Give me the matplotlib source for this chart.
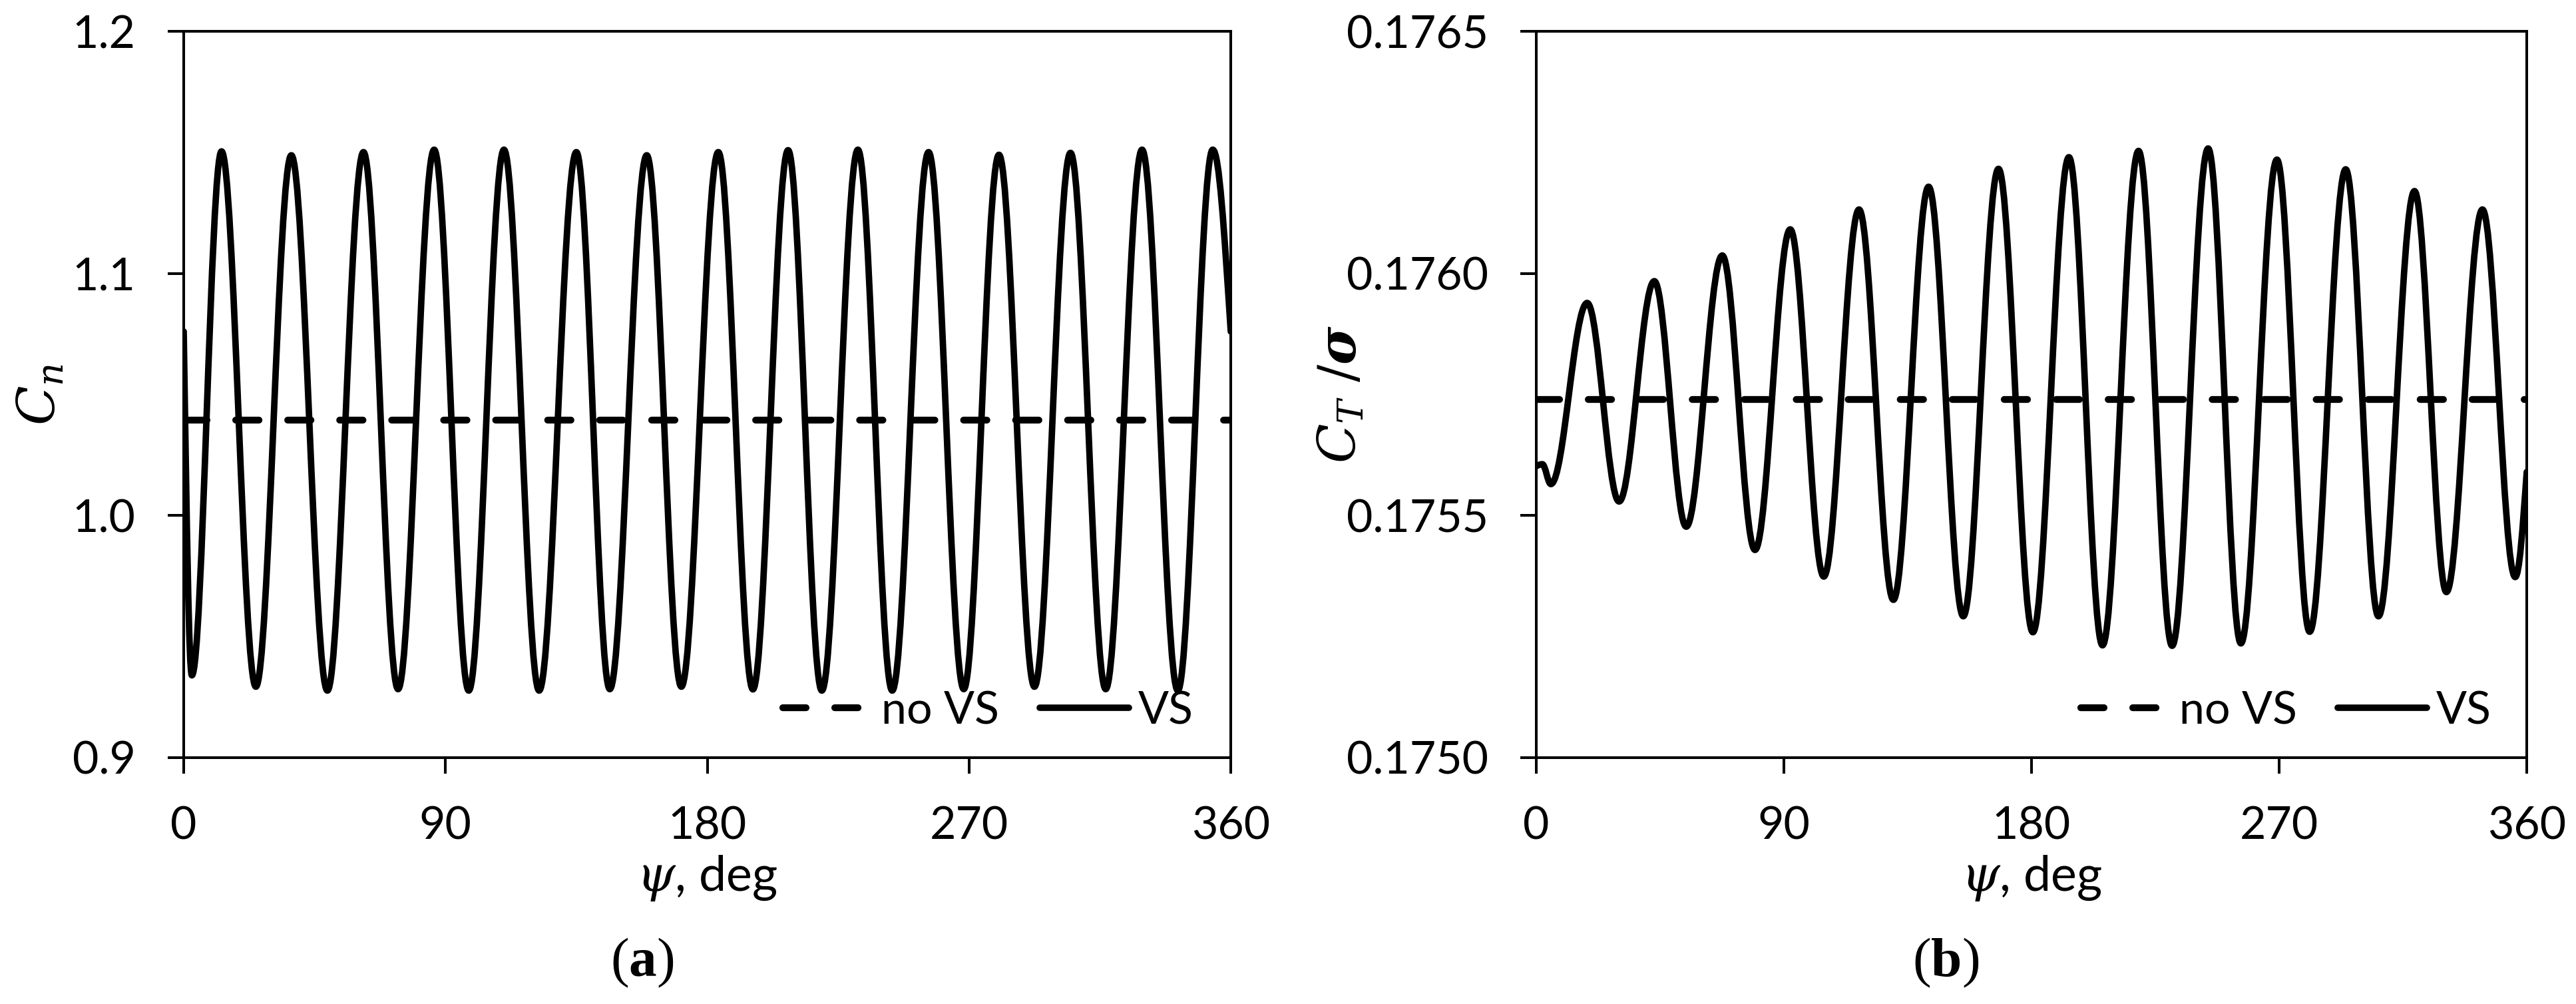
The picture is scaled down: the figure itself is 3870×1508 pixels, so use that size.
import numpy as np
import matplotlib
matplotlib.use("Agg")
import matplotlib.pyplot as plt
from matplotlib.path import Path
from matplotlib.patches import PathPatch
from matplotlib.lines import Line2D
from matplotlib.ticker import FormatStrFormatter

plt.rcParams['font.family'] = ['Lato', 'DejaVu Sans']
plt.rcParams['mathtext.fontset'] = 'custom'
plt.rcParams['mathtext.rm'] = 'DejaVu Serif'
plt.rcParams['mathtext.it'] = 'DejaVu Serif:italic'
plt.rcParams['mathtext.bf'] = 'Liberation Serif:bold'
plt.rcParams['mathtext.bfit'] = 'DejaVu Serif:italic:bold'

PSI_TICKS = [0, 90, 180, 270, 360]
LEGEND_LABELS = ["no VS", "VS"]

# (a) normal force coefficient (turning points + ends)
CN_TICKS = [0.9, 1.0, 1.1, 1.2]
CN_NO_VS = [1.0395, 1.0395]
CN_VS_PSI = [0.0, 2.8, 13.0, 24.8, 37.0, 49.4, 61.8, 73.7, 86.1, 98.0,
             110.1, 122.2, 135.0, 146.5, 159.2, 171.1, 183.8, 195.7, 207.8,
             219.4, 231.8, 243.6, 256.1, 268.2, 280.3, 292.5, 304.9, 317.0,
             329.5, 341.8, 353.8, 360.0]
CN_VS = [1.076, 0.934, 1.1504, 0.9293, 1.1488, 0.9277, 1.1501, 0.9283,
         1.1511, 0.9277, 1.1511, 0.9277, 1.1501, 0.9283, 1.1488, 0.9293,
         1.1501, 0.9282, 1.1509, 0.9277, 1.1511, 0.9277, 1.1501, 0.9283,
         1.1490, 0.9293, 1.1498, 0.9283, 1.1511, 0.9277, 1.1511, 1.076]

# (b) thrust coefficient over solidity
CT_TICKS = [0.1750, 0.1755, 0.1760, 0.1765]
CT_NO_VS = [0.17574, 0.17574]
CT_VS_PSI = [0.0, 2.2, 5.3, 18.5, 30.1, 42.9, 54.5, 67.6, 79.5, 92.3,
             104.5, 117.3, 129.8, 142.6, 155.2, 168.0, 180.5, 193.6, 205.8,
             218.9, 231.1, 244.2, 256.1, 269.2, 281.1, 294.2, 306.1, 319.2,
             330.8, 343.9, 355.8, 360.0]
CT_VS = [0.175602, 0.175606, 0.175565, 0.175939, 0.175529, 0.175984,
         0.175477, 0.176037, 0.175429, 0.176091, 0.175374, 0.176132,
         0.175326, 0.176179, 0.175292, 0.176216, 0.175259, 0.176240,
         0.175232, 0.176253, 0.175231, 0.176258, 0.175236, 0.176235,
         0.175260, 0.176215, 0.175292, 0.176170, 0.175342, 0.176132,
         0.175373, 0.175590]

LW_VS = 7.0
LW_NO_VS = 7.4
DASH = (0, (3.4, 4.2))
FS = 49

# bezier handle for a half-cosine between two turning points
A = 1 - 2 / np.pi


def turning_point_path(psi, val, end_gain=1.5):
    ''' Smooth path through turning points: flat at every inner point '''
    n = len(psi)
    slopes = [0.0] * n
    slopes[0] = end_gain * (val[1] - val[0]) / (psi[1] - psi[0])
    slopes[-1] = end_gain * (val[-1] - val[-2]) / (psi[-1] - psi[-2])
    verts = [(psi[0], val[0])]
    codes = [Path.MOVETO]
    for i in range(n - 1):
        h = psi[i + 1] - psi[i]
        verts.append((psi[i] + A * h, val[i] + slopes[i] * A * h))
        verts.append((psi[i + 1] - A * h, val[i + 1] - slopes[i + 1] * A * h))
        verts.append((psi[i + 1], val[i + 1]))
        codes += [Path.CURVE4] * 3
    return Path(verts, codes)


def draw_panel(ax, psi, vs, no_vs, yticks, yfmt, ylabel, ylabel_x):
    ax.plot([PSI_TICKS[0], PSI_TICKS[-1]], no_vs, color='black', lw=LW_NO_VS,
            linestyle=DASH, dash_capstyle='round')
    ax.add_patch(PathPatch(turning_point_path(psi, vs), facecolor='none',
                           edgecolor='black', lw=LW_VS, capstyle='round',
                           joinstyle='round'))

    ax.set_xlim(PSI_TICKS[0], PSI_TICKS[-1])
    ax.set_ylim(yticks[0], yticks[-1])
    ax.set_xticks(PSI_TICKS)
    ax.set_yticks(yticks)
    ax.yaxis.set_major_formatter(FormatStrFormatter(yfmt))
    ax.tick_params(direction='out', length=17, width=2.9, pad=35,
                   labelsize=FS, top=False, right=False)
    for sp in ax.spines.values():
        sp.set_linewidth(2.9)

    ax.set_xlabel(r'$\psi$, deg', fontsize=53)
    ax.xaxis.set_label_coords(0.5, -0.132)
    ax.set_ylabel(ylabel, fontsize=56)
    ax.yaxis.set_label_coords(ylabel_x, 0.5)

    handles = [Line2D([], [], color='black', lw=LW_NO_VS, linestyle=DASH,
                      dash_capstyle='round'),
               Line2D([], [], color='black', lw=LW_VS,
                      solid_capstyle='round')]
    ax.legend(handles, LEGEND_LABELS, loc='center right',
              bbox_to_anchor=(0.964, 0.064), frameon=False, ncol=2,
              fontsize=FS, handlelength=1.97, handletextpad=0.2,
              columnspacing=0.9, borderpad=0, borderaxespad=0)


fig = plt.figure(figsize=(38.7, 15.08), dpi=100)
ax_a = fig.add_axes([0.07132, 0.24536, 0.40646, 0.72347])
ax_b = fig.add_axes([0.59638, 0.24536, 0.38450, 0.72347])

draw_panel(ax_a, CN_VS_PSI, CN_VS, CN_NO_VS, CN_TICKS, '%.1f',
           r'$C_n$', -0.113)
draw_panel(ax_b, CT_VS_PSI, CT_VS, CT_NO_VS, CT_TICKS, '%.4f',
           r'$C_T\ /\boldsymbol{\sigma}$', -0.173)

fig.text(965 / 3870, 1 - 1446 / 1508, r'($\mathbf{a}$)', ha='center',
         va='center', fontsize=60, family='Liberation Serif')
fig.text(2923 / 3870, 1 - 1446 / 1508, r'($\mathbf{b}$)', ha='center',
         va='center', fontsize=60, family='Liberation Serif')

fig.savefig('out.png', dpi=100)
